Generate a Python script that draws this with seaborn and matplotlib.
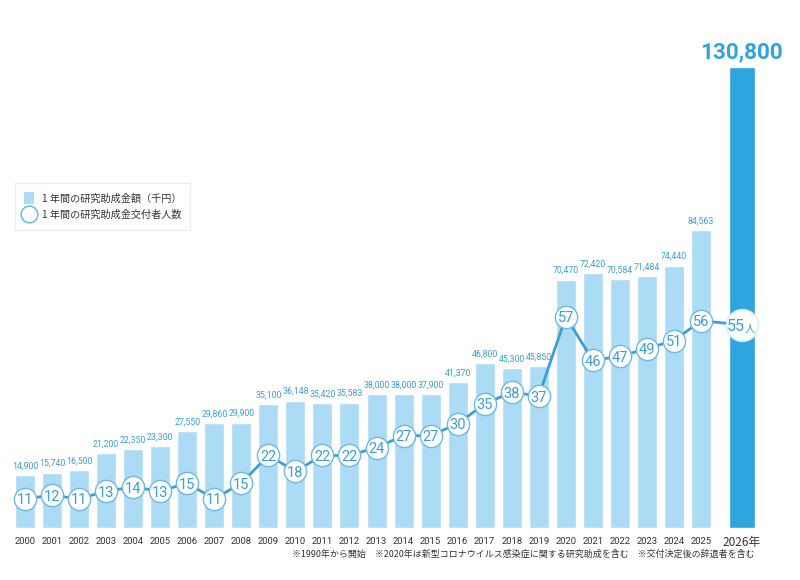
import matplotlib
matplotlib.use("Agg")
import matplotlib.pyplot as plt
import seaborn as sns
import pandas as pd
from matplotlib.patches import Patch
from matplotlib.lines import Line2D

years = ["2000", "2001", "2002", "2003", "2004", "2005", "2006", "2007", "2008", "2009",
         "2010", "2011", "2012", "2013", "2014", "2015", "2016", "2017", "2018", "2019",
         "2020", "2021", "2022", "2023", "2024", "2025", "2026年"]
amounts = [14900, 15740, 16500, 21200, 22350, 23300, 27550, 29860, 29900, 35100,
           36148, 35420, 35583, 38000, 38000, 37900, 41370, 46800, 45300, 45850,
           70470, 72420, 70584, 71484, 74440, 84563, 130800]
people = [11, 12, 11, 13, 14, 13, 15, 11, 15, 22, 18, 22, 22, 24, 27, 27, 30, 35, 38, 37,
          57, 46, 47, 49, 51, 56, 55]
legend_labels = ["1 年間の研究助成金額（千円）", "1 年間の研究助成金交付者人数"]
footnote = "※1990年から開始　※2020年は新型コロナウイルス感染症に関する研究助成を含む　※交付決定後の辞退者を含む"

sns.set_theme(style="white")
plt.rcParams["font.family"] = ["Noto Sans CJK JP", "DejaVu Sans"]

NUM_FONT = ["Liberation Sans Narrow", "Roboto", "Noto Sans CJK JP"]

LIGHT = "#acdbf6"
DARK = "#2fa5df"
TXT_BLUE = "#3a9fd6"
LINE_BLUE = "#3b9fd7"

pos = [float(i) for i in range(len(years) - 1)] + [len(years) - 2 + 1.5]
df = pd.DataFrame({"pos": pos, "year": years, "amount": amounts, "people": people})
main = df.iloc[:-1]
last = df.iloc[-1:]

fig = plt.figure(figsize=(8, 5.8), dpi=100)
ax = fig.add_axes([0, 52 / 580, 1, 488 / 580])
ax2 = ax.twinx()

sns.barplot(data=main, x="pos", y="amount", native_scale=True, width=0.74,
            color=LIGHT, saturation=1, ax=ax, errorbar=None)
sns.barplot(data=last, x="pos", y="amount", native_scale=True, width=0.96,
            color=DARK, saturation=1, ax=ax, errorbar=None)

xl = (-25 / 27.04, 775 / 27.04)
ax.set_xlim(*xl)
ax.set_ylim(0, 488 / 0.003524)

# bar value labels
for p, a in zip(main["pos"], main["amount"]):
    ax.text(p, a + 1300, f"{a:,}", ha="center", va="bottom", color=TXT_BLUE,
            fontsize=6.3, family=NUM_FONT)
ax.text(last["pos"].iloc[0], last["amount"].iloc[0] + 1000, f"{last['amount'].iloc[0]:,}",
        ha="center", va="bottom", color=DARK, fontsize=16.2, fontweight="bold",
        family=["Roboto", "DejaVu Sans"])

# line axis
ymin2 = 11 - 29 / 3.96
ax2.set_ylim(ymin2, ymin2 + 488 / 3.96)
ax2.set_xlim(*xl)
sns.lineplot(data=df, x="pos", y="people", color=LINE_BLUE, lw=2, ax=ax2, zorder=3)
sns.scatterplot(data=main, x="pos", y="people", s=16 ** 2, color="white",
                edgecolor="#6cb9e2", linewidth=1.0, ax=ax2, zorder=4)
sns.scatterplot(data=last, x="pos", y="people", s=23 ** 2, color="white",
                edgecolor="#d6ecf8", linewidth=1.0, ax=ax2, zorder=4)
for p, v in zip(main["pos"], main["people"]):
    ax2.text(p, v, str(v), ha="center", va="center_baseline", color=TXT_BLUE,
             fontsize=10.5, family=["Roboto", "DejaVu Sans"], zorder=5)
lp, lv = last["pos"].iloc[0], last["people"].iloc[0]
ax2.text(lp + 0.12, lv, str(lv), ha="right", va="center_baseline", color=TXT_BLUE,
         fontsize=11.5, family=["Roboto", "DejaVu Sans"], zorder=5)
ax2.text(lp + 0.12, lv - 0.8, "人", ha="left", va="center_baseline", color=TXT_BLUE,
         fontsize=7.5, zorder=5)

# x tick labels
ax.set_xticks(df["pos"])
ax.set_xticklabels([])
ax.tick_params(axis="x", length=0)
for p, y in zip(main["pos"], main["year"]):
    ax.text(p, -2500, y, ha="center", va="top", color="#333333", fontsize=6.8,
            family=NUM_FONT)
ax.text(lp, -2300, years[-1], ha="center", va="top", color="#333333", fontsize=8.5)

ax.set_yticks([])
ax2.set_yticks([])
ax.set_xlabel("")
ax.set_ylabel("")
ax2.set_xlabel("")
ax2.set_ylabel("")
for a in (ax, ax2):
    for s in a.spines.values():
        s.set_visible(False)
ax.patch.set_alpha(0)

# footnote
fig.text(755 / 800, 1 - 554 / 580, footnote, ha="right", va="center", fontsize=6.45,
         color="#333333")

# legend
handles = [Patch(facecolor=LIGHT, edgecolor="none"),
           Line2D([], [], marker="o", color="none", markerfacecolor="white",
                  markeredgecolor="#5fb3e0", markersize=12, markeredgewidth=1.0)]
leg = fig.legend(handles, legend_labels, loc="upper left",
                 bbox_to_anchor=(15 / 800, 1 - 183 / 580), frameon=True,
                 fontsize=7.3, handlelength=1.0, handleheight=1.4, handletextpad=0.75,
                 labelspacing=0.5, borderpad=0.9, borderaxespad=0, fancybox=False,
                 labelcolor="#333333")
leg.get_frame().set_edgecolor("#e6e6e6")
leg.get_frame().set_linewidth(0.8)

fig.savefig("out.png", dpi=100)
